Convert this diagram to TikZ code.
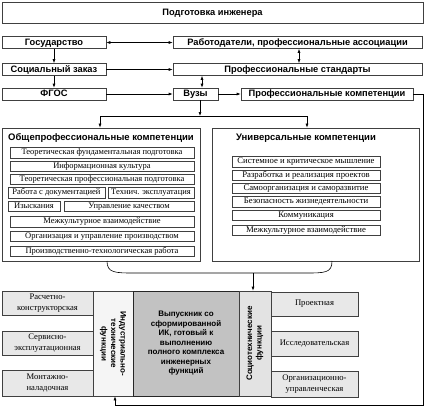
\documentclass[tikz,border=0pt]{standalone}
\usepackage{fontspec}
\setmainfont{Liberation Serif}
\newfontfamily\hv{Liberation Sans}
\usetikzlibrary{arrows.meta}
\tikzset{
  x=1pt,y=-1pt,
  base/.style={draw=black!75,line width=0.6pt,inner sep=0pt,align=center},
  hb/.style={base,fill=white,font=\hv\bfseries\fontsize{9.3}{10}\selectfont,text height=6.8pt,text depth=1.8pt},
  panel/.style={base,fill=white,line width=0.7pt},
  ttl/.style={inner sep=0pt,font=\hv\bfseries\fontsize{9.5}{11}\selectfont},
  it/.style={base,fill=white,line width=0.5pt,text height=6.3pt,text depth=2pt},
  itl/.style={it,font=\fontsize{8.5}{10}\selectfont},
  itr/.style={it,font=\fontsize{8.7}{10}\selectfont},
  fb/.style={base,fill=black!9,font=\fontsize{8.6}{10.5}\selectfont},
  col/.style={base,font=\hv\bfseries\fontsize{8}{9.5}\selectfont},
  arr/.style={-{Latex[length=4pt,width=3pt]},line width=0.6pt},
  darr/.style={{Latex[length=4pt,width=3pt]}-{Latex[length=4pt,width=3pt]},line width=0.6pt},
  ln/.style={line width=0.6pt}
}
\begin{document}
\begin{tikzpicture}
\useasboundingbox (0,0) rectangle (425,410);
% top rows
\node[hb,minimum width=421,minimum height=21] (top) at (212.5,12.5) {Подготовка инженера};
\node[hb,minimum width=104,minimum height=12] (gos) at (54,42.5) {Государство};
\node[hb,minimum width=249,minimum height=12] (rab) at (297.5,42.5) {Работодатели, профессиональные ассоциации};
\node[hb,minimum width=104,minimum height=12] (soc) at (54,69.5) {Социальный заказ};
\node[hb,minimum width=249,minimum height=12] (std) at (297.5,69.5) {Профессиональные стандарты};
\node[hb,minimum width=104,minimum height=12] (fgos) at (54,94) {ФГОС};
\node[hb,minimum width=45,minimum height=12] (vuz) at (195.5,94) {Вузы};
\node[hb,minimum width=172,minimum height=12] (pk) at (327,94) {Профессиональные компетенции};
\draw[darr] (gos.east) -- (rab.west);
\draw[arr] (gos.south) -- (soc.north);
\draw[arr] (soc.south) -- (fgos.north);
\draw[arr] (soc.east) -- (std.west);
\draw[darr] (rab.south -| 299,0) -- (std.north -| 299,0);
\draw[darr] (std.south -| 202,0) -- (vuz.north -| 202,0);
\draw[arr] (fgos.east) -- (vuz.west);
\draw[arr] (vuz.east) -- (pk.west);
% panels
\node[panel,minimum width=198,minimum height=133] (op) at (101,194.5) {};
\node[panel,minimum width=207,minimum height=133] (uk) at (315.5,194.5) {};
\coordinate (split) at (200,116);
\draw[arr] (vuz.south -| split) -- (split);
\draw[ln] (100,116) -- (307,116);
\draw[arr] (100,116) -- (op.north -| 100,0);
\draw[arr] (307,116) -- (uk.north -| 307,0);
\node[ttl] (opt) at (101,138) {Общепрофессиональные компетенции};
\node[ttl] (ukt) at (306,138) {Универсальные компетенции};
% left items
\node[itl,minimum width=184,minimum height=11] (a1) at (102,152.5) {Теоретическая фундаментальная подготовка};
\node[itl,minimum width=184,minimum height=10] (a2) at (102,166.5) {Информационная культура};
\node[itl,minimum width=184,minimum height=10] (a3) at (102,179.5) {Теоретическая профессиональная подготовка};
\node[itl,minimum width=97,minimum height=11] (a4) at (56.5,192.5) {Работа с документацией};
\node[itl,minimum width=86,minimum height=11] (a5) at (151,192.5) {Технич. эксплуатация};
\node[itl,minimum width=52,minimum height=10] (a6) at (34,206) {Изыскания};
\node[itl,minimum width=130,minimum height=10] (a7) at (129,206) {Управление качеством};
\node[itl,minimum width=184,minimum height=11] (a8) at (102,221.5) {Межкультурное взаимодействие};
\node[itl,minimum width=184,minimum height=10] (a9) at (102,236) {Организация и управление производством};
\node[itl,minimum width=184,minimum height=10] (a10) at (102,251) {Производственно-технологическая работа};
% right items
\node[itr,minimum width=148,minimum height=11] (b1) at (306,161.5) {Системное и критическое мышление};
\node[itr,minimum width=148,minimum height=10] (b2) at (306,175.5) {Разработка и реализация проектов};
\node[itr,minimum width=148,minimum height=10] (b3) at (306,188) {Самоорганизация и саморазвитие};
\node[itr,minimum width=148,minimum height=11] (b4) at (306,201.5) {Безопасность жизнедеятельности};
\node[itr,minimum width=148,minimum height=10] (b5) at (306,215) {Коммуникация};
\node[itr,minimum width=148,minimum height=10] (b6) at (306,230) {Межкультурное взаимодействие};
% brace
\draw[ln] (107,261) .. controls (107,273) and (115,273) .. (135,273) -- (305,273) .. controls (325,273) and (332,273) .. (332,261);
\coordinate (bp) at (253,273);
% bottom
\node[fb,minimum width=91,minimum height=24] (rk) at (47.5,303) {Расчетно-\\конструкторская};
\node[fb,minimum width=91,minimum height=24] (se) at (47.5,343) {Сервисно-\\эксплуатационная};
\node[fb,minimum width=91,minimum height=26] (mn) at (47.5,383) {Монтажно-\\наладочная};
\node[col,fill=black!4,minimum width=40,minimum height=105] (ind) at (113,343.5) {};
\node[col,rotate=-90,draw=none,fill=none] (indt) at (ind.center) {Индустриально-\\технические\\функции};
\node[col,fill=black!24,draw=black!85,minimum width=106,minimum height=105] (vyp) at (186,343.5) {Выпускник со\\сформированной\\ИК, готовый к\\выполнению\\полного комплекса\\инженерных\\функций};
\node[col,fill=black!11,minimum width=32,minimum height=105] (sot) at (255,343.5) {};
\node[col,rotate=90,draw=none,fill=none] (sott) at (sot.center) {Социотехнические\\функции};
\node[fb,minimum width=87,minimum height=24] (pr) at (314.5,304) {Проектная};
\node[fb,minimum width=87,minimum height=25] (is) at (314.5,343.5) {Исследовательская};
\node[fb,minimum width=87,minimum height=26] (ou) at (314.5,384) {Организационно-\\управленческая};
\draw[arr] (bp) -- (sot.north -| bp);
\draw[arr] (pk.east) -- (423,94) -- (423,405) -- (115,405) -- (ind.south -| 115,0);
\end{tikzpicture}
\end{document}
